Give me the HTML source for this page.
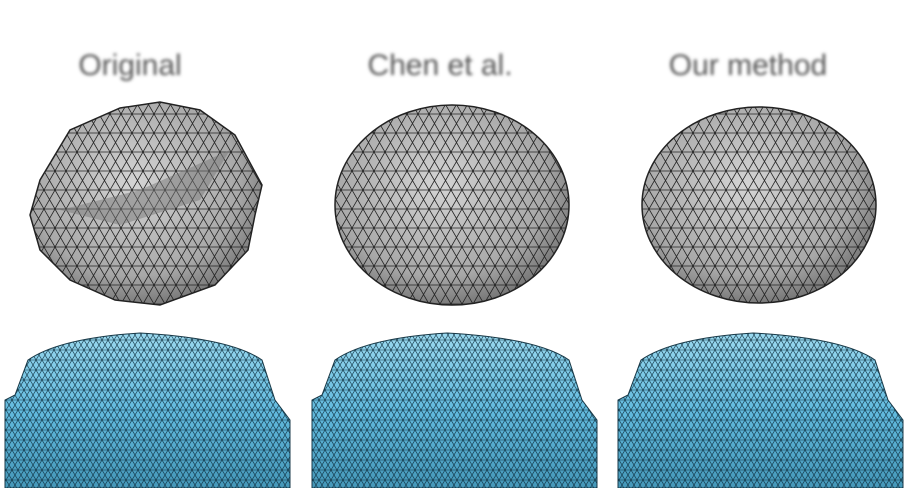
<!DOCTYPE html>
<html><head><meta charset="utf-8"><style>
html,body{margin:0;padding:0;background:#fff;width:924px;height:498px;overflow:hidden}
svg{display:block}
.t{font-family:"Liberation Sans",sans-serif;font-size:30px;fill:#555}
</style></head><body>
<svg width="924" height="498" viewBox="0 0 924 498">
<defs>
<filter id="blur"><feGaussianBlur stdDeviation="1.6"/></filter>
<pattern id="tri" width="22" height="19" patternUnits="userSpaceOnUse">
<rect width="22" height="19" fill="none"/>
<path d="M0 0H22M0 19H22M0 19L11 0L22 19M0 0L11 19L22 0" stroke="#222" stroke-width="0.8" fill="none"/>
</pattern>
<pattern id="triS" width="12" height="10" patternUnits="userSpaceOnUse">
<path d="M0 0H12M0 10H12M0 10L6 0L12 10M0 0L6 10L12 0" stroke="#0e3040" stroke-width="0.6" fill="none"/>
</pattern>
<radialGradient id="gs" cx="45%" cy="40%" r="65%">
<stop offset="0" stop-color="#d4d4d4"/><stop offset="0.7" stop-color="#a8a8a8"/><stop offset="1" stop-color="#6a6a6a"/>
</radialGradient>
<linearGradient id="gb" x1="0" y1="0" x2="0" y2="1">
<stop offset="0" stop-color="#9ad8ee"/><stop offset="0.5" stop-color="#62bade"/><stop offset="1" stop-color="#4597b8"/>
</linearGradient>
</defs>

<g filter="url(#blur)">
<text class="t" x="130" y="75" text-anchor="middle">Original</text>
<text class="t" x="440" y="75" text-anchor="middle">Chen et al.</text>
<text class="t" x="748" y="75" text-anchor="middle">Our method</text>
</g>

<g>
<path d="M40 180 L70 130 L120 108 L160 102 L200 110 L235 135 L262 185 L255 215 L248 250 L215 285 L160 305 L115 300 L70 280 L40 250 L30 215 Z" fill="url(#gs)" stroke="#222" stroke-width="1.5"/>
<path d="M40 180 L70 130 L120 108 L160 102 L200 110 L235 135 L262 185 L255 215 L248 250 L215 285 L160 305 L115 300 L70 280 L40 250 L30 215 Z" fill="url(#tri)"/>
<path d="M60 210 L140 190 L230 150 L200 200 L120 225 Z" fill="#777" opacity="0.5"/>
</g>
<g>
<ellipse cx="452" cy="205" rx="117" ry="100" fill="url(#gs)" stroke="#222" stroke-width="1.5"/>
<ellipse cx="452" cy="205" rx="117" ry="100" fill="url(#tri)"/>
</g>
<g>
<ellipse cx="759" cy="205" rx="117" ry="98" fill="url(#gs)" stroke="#222" stroke-width="1.5"/>
<ellipse cx="759" cy="205" rx="117" ry="98" fill="url(#tri)"/>
</g>

<g>
<g>
<path d="M5 488 L5 400 L15 395 L28 360 Q60 338 140 333 Q230 338 262 360 L275 400 L290 420 L290 488 Z" fill="url(#gb)" stroke="#1a3a48"/>
<path d="M5 488 L5 400 L15 395 L28 360 Q60 338 140 333 Q230 338 262 360 L275 400 L290 420 L290 488 Z" fill="url(#triS)"/>
</g>
<g transform="translate(307,0)">
<path d="M5 488 L5 400 L15 395 L28 360 Q60 338 140 333 Q230 338 262 360 L275 400 L290 420 L290 488 Z" fill="url(#gb)" stroke="#1a3a48"/>
<path d="M5 488 L5 400 L15 395 L28 360 Q60 338 140 333 Q230 338 262 360 L275 400 L290 420 L290 488 Z" fill="url(#triS)"/>
</g>
<g transform="translate(613,0)">
<path d="M5 488 L5 400 L15 395 L28 360 Q60 338 140 333 Q230 338 262 360 L275 400 L290 420 L290 488 Z" fill="url(#gb)" stroke="#1a3a48"/>
<path d="M5 488 L5 400 L15 395 L28 360 Q60 338 140 333 Q230 338 262 360 L275 400 L290 420 L290 488 Z" fill="url(#triS)"/>
</g>
</g>
<rect x="0" y="488" width="924" height="10" fill="#fff"/>
</svg>
</body></html>
